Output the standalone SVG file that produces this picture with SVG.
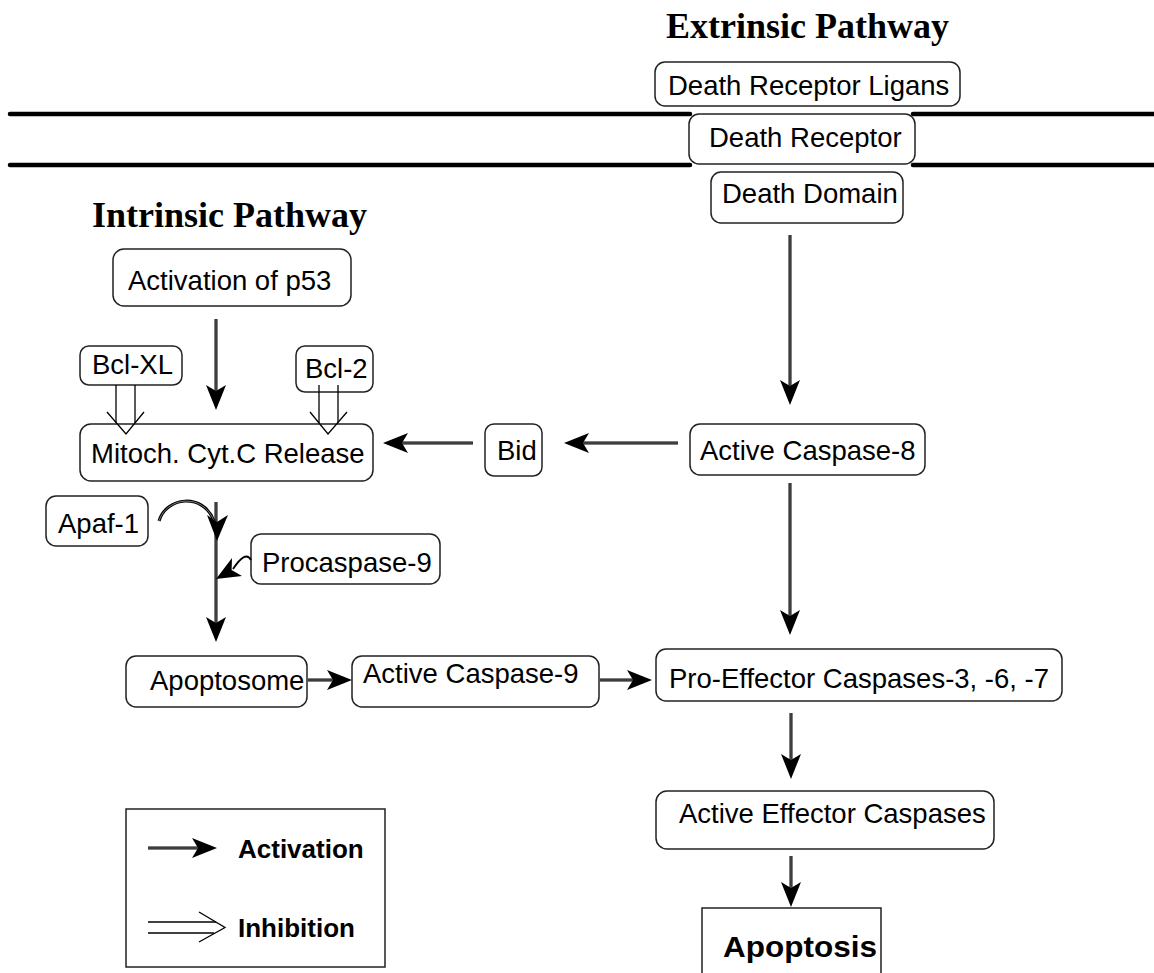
<svg xmlns="http://www.w3.org/2000/svg" width="1154" height="973" viewBox="0 0 1154 973">
<style>
.box{fill:#fff;stroke:#222;stroke-width:1.5}
.t{font-family:"Liberation Sans",Arial,sans-serif;font-size:27.5px;fill:#000}
.tb{font-family:"Liberation Sans",Arial,sans-serif;font-weight:bold;fill:#000}
.title{font-family:"Liberation Serif","Times New Roman",serif;font-weight:bold;font-size:36px;fill:#000}
.mem{stroke:#000;stroke-width:4.5;stroke-linecap:round;fill:none}
.c{stroke:#000;stroke-width:3;fill:none}
.ci{stroke:#999;stroke-width:0.8;fill:none}
.inh{stroke:#000;stroke-width:1.3;fill:none}
</style>
<defs>
<marker id="ah" markerUnits="userSpaceOnUse" viewBox="-10 -12 40 24" markerWidth="40" markerHeight="24" refX="0" refY="0" orient="auto">
<path d="M19,0 L-6,-10 L0,0 L-6,10 Z" fill="#000"/>
</marker>
</defs>
<rect width="1154" height="973" fill="#fff"/>

<g id="membrane">
<line class="mem" x1="10" y1="114" x2="690" y2="114"/>
<line class="mem" x1="913" y1="114" x2="1154" y2="114"/>
<line class="mem" x1="10" y1="165" x2="690" y2="165"/>
<line class="mem" x1="913" y1="165" x2="1154" y2="165"/>
</g>

<text id="title-extrinsic" class="title" x="666" y="38">Extrinsic Pathway</text>
<text id="title-intrinsic" class="title" x="92" y="227">Intrinsic Pathway</text>

<!-- nodes -->
<g id="n-ligand"><rect class="box" x="655" y="62" width="305" height="44" rx="10"/><text class="t" x="668" y="95">Death Receptor Ligans</text></g>
<g id="n-receptor"><rect class="box" x="689" y="114" width="226" height="50" rx="10"/><text class="t" x="709" y="147">Death Receptor</text></g>
<g id="n-domain"><rect class="box" x="711" y="172" width="192" height="51" rx="10"/><text class="t" x="722" y="203">Death Domain</text></g>
<g id="n-p53"><rect class="box" x="113" y="249" width="238" height="57" rx="11"/><text class="t" x="128" y="290">Activation of p53</text></g>
<g id="n-bclxl"><rect class="box" x="80" y="346" width="102" height="39" rx="9"/><text class="t" x="92" y="374">Bcl-XL</text></g>
<g id="n-bcl2"><rect class="box" x="296" y="346" width="77" height="46" rx="9"/><text class="t" x="305" y="378">Bcl-2</text></g>
<g id="n-mito"><rect class="box" x="80" y="424" width="293" height="57" rx="11"/><text class="t" x="91" y="463">Mitoch. Cyt.C Release</text></g>
<g id="n-bid"><rect class="box" x="485" y="424" width="57" height="52" rx="9"/><text class="t" x="497" y="460">Bid</text></g>
<g id="n-casp8"><rect class="box" x="690" y="424" width="235" height="51" rx="10"/><text class="t" x="700" y="460">Active Caspase-8</text></g>
<g id="n-apaf"><rect class="box" x="46" y="496" width="102" height="50" rx="10"/><text class="t" x="58" y="533">Apaf-1</text></g>
<g id="n-procasp9"><rect class="box" x="251" y="534" width="189" height="50" rx="10"/><text class="t" x="262" y="572">Procaspase-9</text></g>
<g id="n-apoptosome"><rect class="box" x="126" y="656" width="181" height="51" rx="10"/><text class="t" x="150" y="690">Apoptosome</text></g>
<g id="n-casp9"><rect class="box" x="352" y="656" width="247" height="51" rx="10"/><text class="t" x="363" y="683">Active Caspase-9</text></g>
<g id="n-proeff"><rect class="box" x="656" y="649" width="406" height="52" rx="10"/><text class="t" x="669" y="688">Pro-Effector Caspases-3, -6, -7</text></g>
<g id="n-acteff"><rect class="box" x="656" y="791" width="338" height="58" rx="11"/><text class="t" x="679" y="823">Active Effector Caspases</text></g>
<g id="n-apoptosis"><path class="box" d="M702,980 V908 H881 V980"/><text class="tb" x="723" y="957" font-size="30" textLength="154" lengthAdjust="spacingAndGlyphs">Apoptosis</text></g>

<!-- connectors -->
<g id="connectors">
<path class="c" d="M790,235 V386" marker-end="url(#ah)"/><path class="ci" d="M790,235 V386"/>
<path class="c" d="M216,319 V391" marker-end="url(#ah)"/><path class="ci" d="M216,319 V391"/>
<path class="c" d="M678,443 H583" marker-end="url(#ah)"/><path class="ci" d="M678,443 H583"/>
<path class="c" d="M473,443 H402" marker-end="url(#ah)"/><path class="ci" d="M473,443 H402"/>
<path class="c" d="M790,483 V616" marker-end="url(#ah)"/><path class="ci" d="M790,483 V616"/>
<path class="c" d="M216,502 V623" marker-end="url(#ah)"/><path class="ci" d="M216,502 V623"/>
<path class="c" d="M308,680 H333" marker-end="url(#ah)"/><path class="ci" d="M308,680 H333"/>
<path class="c" d="M600,680 H633" marker-end="url(#ah)"/><path class="ci" d="M600,680 H633"/>
<path class="c" d="M791,713 V760" marker-end="url(#ah)"/><path class="ci" d="M791,713 V760"/>
<path class="c" d="M791,856 V888" marker-end="url(#ah)"/><path class="ci" d="M791,856 V888"/>
<path class="c" d="M159,521 C166,497 203,492 214,521"/>
<path class="ci" d="M159,521 C166,497 203,492 214,521"/>
<path d="M217,541 L207,515 L217,522 L228,515 Z" fill="#000"/>
<path d="M251,560 C247,553 241,557 233,569" stroke="#000" stroke-width="1.8" fill="none"/>
<path d="M216,579 L232,558 L231.6,570 L242,576 Z" fill="#000"/>
<line class="inh" x1="116" y1="385" x2="116" y2="423"/>
<line class="inh" x1="135" y1="385" x2="135" y2="423"/>
<polyline class="inh" points="107,412 126,434 144,412"/>
<line class="inh" x1="319" y1="385" x2="319" y2="423"/>
<line class="inh" x1="338" y1="385" x2="338" y2="423"/>
<polyline class="inh" points="310,412 328,434 347,412"/>
</g>

<g id="legend">
<rect x="126" y="809" width="259" height="158" fill="none" stroke="#222" stroke-width="1.5"/>
<path class="c" d="M148,848 H198" marker-end="url(#ah)"/><path class="ci" d="M148,848 H198"/>
<text class="tb" x="238" y="858" font-size="26">Activation</text>
<line class="inh" x1="148" y1="922" x2="216" y2="922"/>
<line class="inh" x1="148" y1="933" x2="214" y2="933"/>
<polyline class="inh" points="199,912 225,927.5 199,942"/>
<text class="tb" x="238" y="937" font-size="26">Inhibition</text>
</g>
</svg>
